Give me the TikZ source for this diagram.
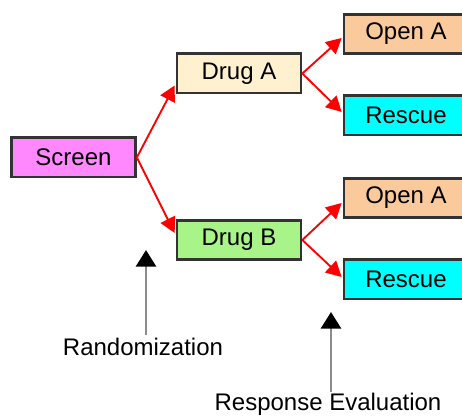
\documentclass[tikz,border=0pt]{standalone}
\usepackage{fontspec}
\setmainfont{Liberation Sans}
\usetikzlibrary{arrows.meta,positioning,calc}
\tikzset{>={Triangle[length=11.5pt,width=12pt]}}
\definecolor{boxgray}{RGB}{51,51,51}
\definecolor{screenpink}{RGB}{255,136,255}
\definecolor{drugacream}{RGB}{255,240,208}
\definecolor{drugbgreen}{RGB}{168,244,136}
\definecolor{openpeach}{RGB}{250,202,156}
\definecolor{rescuecyan}{RGB}{0,255,255}

\begin{document}
\begin{tikzpicture}[x=0.75pt,y=-0.75pt,
    box/.style={draw=boxgray, line width=2pt, minimum width=93pt, minimum height=29.5pt,
        inner sep=0pt, font=\fontsize{18}{20}\selectfont},
    branch/.style={->, red, line width=1.4pt},
    marker/.style={-{Triangle[length=12.5pt,width=15pt,color=black]}, gray!90, line width=2.2pt},
    caption/.style={inner sep=1pt, font=\fontsize{18}{20}\selectfont}]
        % Page (the boxes on the right run past the edge)
        \clip (0,0) rectangle (462,417);

        % Columns and rows
        \def\colS{73.5}
        \def\colD{239}
        \def\colR{406}

        % Boxes
        \node[box, fill=screenpink] (screen) at (\colS,157.5) {Screen};
        \node[box, fill=drugacream] (druga) at (\colD,73.5) {Drug A};
        \node[box, fill=drugbgreen] (drugb) at (\colD,240) {Drug B};
        \node[box, fill=openpeach]  (opena) at (\colR,34) {Open A};
        \node[box, fill=rescuecyan] (rescuea) at (\colR,115.5) {Rescue};
        \node[box, fill=openpeach]  (openb) at (\colR,198) {Open A};
        \node[box, fill=rescuecyan] (rescueb) at (\colR,279.5) {Rescue};

        % Branches
        \draw[branch] (screen.east) -- ($(druga.west)+(-1,12)$);
        \draw[branch] (screen.east) -- ($(drugb.west)+(-1,-7)$);
        \draw[branch] (druga.east) -- ($(opena.west)+(-1,4)$);
        \draw[branch] (druga.east) -- ($(rescuea.west)+(-1,-3.5)$);
        \draw[branch] (drugb.east) -- ($(openb.west)+(-1,5)$);
        \draw[branch] (drugb.east) -- ($(rescueb.west)+(-1,-2.5)$);

        % Time points
        \node[caption] (rand) at (143,347) {Randomization};
        \coordinate (randtip) at (146,250);
        \draw[marker] ([yshift=1.5pt]rand.north -| randtip) -- (randtip);
        \node[caption, anchor=base] (resp) at (328,410.5) {Response Evaluation};
        \coordinate (resptip) at (331,312);
        \draw[marker] (resp.north -| resptip) -- (resptip);
\end{tikzpicture}
\end{document}
